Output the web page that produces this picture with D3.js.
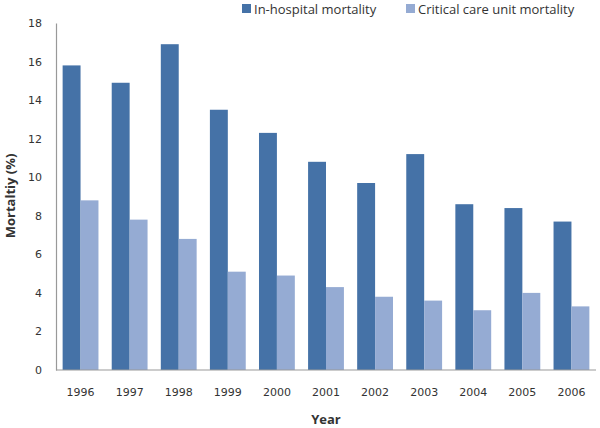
<!DOCTYPE html>
<html><head><meta charset="utf-8">
<script src="https://cdn.jsdelivr.net/npm/d3@7"></script>
<style>body{margin:0;background:#fff}svg{display:block}</style>
</head><body>
<svg id="c" width="600" height="428"></svg>
<script>
const years = ["1996","1997","1998","1999","2000","2001","2002","2003","2004","2005","2006"];
const inHospital = [15.8,14.9,16.9,13.5,12.3,10.8,9.7,11.2,8.6,8.4,7.7];
const criticalCare = [8.8,7.8,6.8,5.1,4.9,4.3,3.8,3.6,3.1,4.0,3.3];
const seriesNames = ["In-hospital mortality","Critical care unit mortality"];
const seriesColors = ["#4572A7","#95ABD3"];
const yTicks = [0,2,4,6,8,10,12,14,16,18];

const svg = d3.select("#c");
const m = {l:56, r:596, t:23, b:370};
const x = d3.scaleBand().domain(years).range([m.l, m.r]).paddingInner(0.27).paddingOuter(0.135);
const xs = d3.scaleBand().domain([0,1]).range([0, x.bandwidth()]);
const y = d3.scaleLinear().domain([0,18]).range([m.b, m.t]);

const series = [inHospital, criticalCare];
series.forEach((vals, si) => {
  svg.append("g").selectAll("rect").data(vals).join("rect")
    .attr("x", (d,i) => x(years[i]) + xs(si))
    .attr("y", d => y(d))
    .attr("width", xs.bandwidth())
    .attr("height", d => y(0) - y(d))
    .attr("fill", seriesColors[si]);
});

// axes
const ya = svg.append("g").attr("transform", `translate(${m.l},0)`)
  .call(d3.axisLeft(y).tickValues(yTicks).tickSize(0).tickPadding(14).tickFormat(d3.format("d")));
ya.select(".domain").attr("stroke", "#999").attr("stroke-width", 1.2);
ya.selectAll("text").attr("font-family", "DejaVu Sans").attr("font-size", 11).attr("fill", "#333");

const xa = svg.append("g").attr("transform", `translate(0,${m.b})`)
  .call(d3.axisBottom(x).tickSize(0).tickPadding(18));
xa.select(".domain").attr("stroke", "#999").attr("stroke-width", 1.2).attr("d", `M${m.l},0H${m.r}`);
xa.selectAll("text").attr("font-family", "DejaVu Sans").attr("font-size", 11).attr("fill", "#333");

// axis titles
svg.append("text").attr("x", 326).attr("y", 424).attr("text-anchor", "middle")
  .attr("font-family", "Open Sans").attr("font-weight", "bold").attr("font-size", 13).attr("fill", "#333").text("Year");
svg.append("text").attr("transform", "translate(15,196) rotate(-90)").attr("text-anchor", "middle")
  .attr("font-family", "Open Sans").attr("font-weight", "bold").attr("font-size", 13).attr("fill", "#333").text("Mortaltiy (%)");

// legend
const lx = [242, 406];
seriesNames.forEach((n, i) => {
  svg.append("rect").attr("x", lx[i]).attr("y", 4).attr("width", 9).attr("height", 9).attr("fill", seriesColors[i]);
  svg.append("text").attr("x", lx[i] + 12).attr("y", 13.5)
    .attr("font-family", "Open Sans").attr("font-size", 13).attr("fill", "#333").text(n);
});
</script>
</body></html>
